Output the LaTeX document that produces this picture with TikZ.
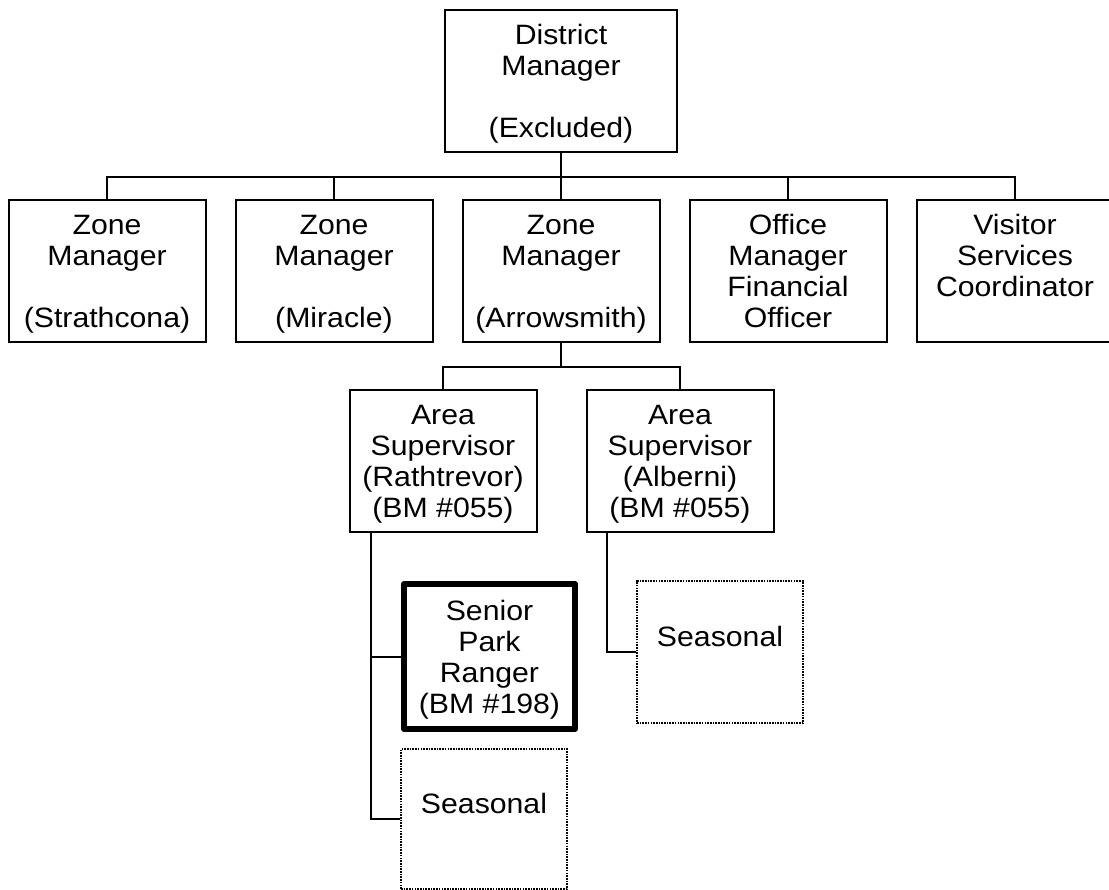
\documentclass[tikz,border=0pt]{standalone}
\usepackage{fontspec}
\setmainfont[FakeStretch=1.08]{Liberation Sans}
\newcommand{\fst}{\rule{0pt}{22pt}}
\begin{document}
\begin{tikzpicture}[x=1pt,y=-1pt,
  box/.style={draw, line width=2pt, rectangle, inner sep=0pt, minimum height=142pt},
  bigbox/.style={draw, line width=6pt, rectangle, inner sep=0pt, line join=round},
  seasbox/.style={draw, line width=1.8pt, rectangle, inner sep=0pt, dash pattern=on 1.6pt off 1.1pt},
  txt/.style={anchor=north, inner sep=0pt, align=center, font=\fontsize{28}{31}\selectfont},
  conn/.style={draw, line width=2pt}]
\useasboundingbox (0,0) rectangle (1109,890);
% level 1
\node[box, minimum width=232pt] (dm) at (561,81) {};
\node[txt] (tdm) at (561,22.5) {\fst District\\Manager\\[31pt](Excluded)};
% level 2
\node[box, minimum width=197pt] (z1) at (107,271) {};
\node[box, minimum width=197pt] (z2) at (334,271) {};
\node[box, minimum width=197pt] (z3) at (561,271) {};
\node[box, minimum width=197pt] (z4) at (788,271) {};
\node[box, minimum width=197pt] (z5) at (1015,271) {};
\node[txt] (tz1) at (107,212) {\fst Zone\\Manager\\[31pt](Strathcona)};
\node[txt] (tz2) at (334,212) {\fst Zone\\Manager\\[31pt](Miracle)};
\node[txt] (tz3) at (561,212) {\fst Zone\\Manager\\[31pt](Arrowsmith)};
\node[txt] (tz4) at (788,212) {\fst Office\\Manager\\Financial\\Officer};
\node[txt] (tz5) at (1015,212) {\fst Visitor\\Services\\Coordinator};
% level 3
\node[box, minimum width=187pt] (aA) at (443,461) {};
\node[box, minimum width=187pt] (aB) at (680,461) {};
\node[txt] (taA) at (443,402.5) {\fst Area\\Supervisor\\(Rathtrevor)\\(BM \#055)};
\node[txt] (taB) at (680,402.5) {\fst Area\\Supervisor\\(Alberni)\\(BM \#055)};
% level 4
\node[bigbox, minimum width=171pt, minimum height=145pt] (spr) at (489.5,656.5) {};
\node[txt] (tspr) at (489.5,598) {\fst Senior\\Park\\Ranger\\(BM \#198)};
\node[seasbox, minimum width=166pt, minimum height=140pt] (sL) at (484,819) {};
\node[txt] (tsL) at (484,791.5) {\fst Seasonal};
\node[seasbox, minimum width=166pt, minimum height=142pt] (sR) at (720,652) {};
\node[txt] (tsR) at (720,624.5) {\fst Seasonal};
% connectors
\draw[conn] (dm.south) -- ++(0,24) coordinate (b0);
\draw[conn] (b0) -| (z1.north);
\draw[conn] (b0) -| (z2.north);
\draw[conn] (b0) -- (z3.north);
\draw[conn] (b0) -| (z4.north);
\draw[conn] (b0) -| (z5.north);
\draw[conn] (z3.south) -- ++(0,24) coordinate (b1);
\draw[conn] (b1) -| (aA.north);
\draw[conn] (b1) -| (aB.north);
\coordinate (cA) at ([xshift=22.5pt]aA.south west);
\draw[conn] (cA) |- (spr.west);
\draw[conn] (cA) |- (sL.west);
\coordinate (cB) at ([xshift=21.5pt]aB.south west);
\draw[conn] (cB) |- (sR.west);
\end{tikzpicture}
\end{document}
